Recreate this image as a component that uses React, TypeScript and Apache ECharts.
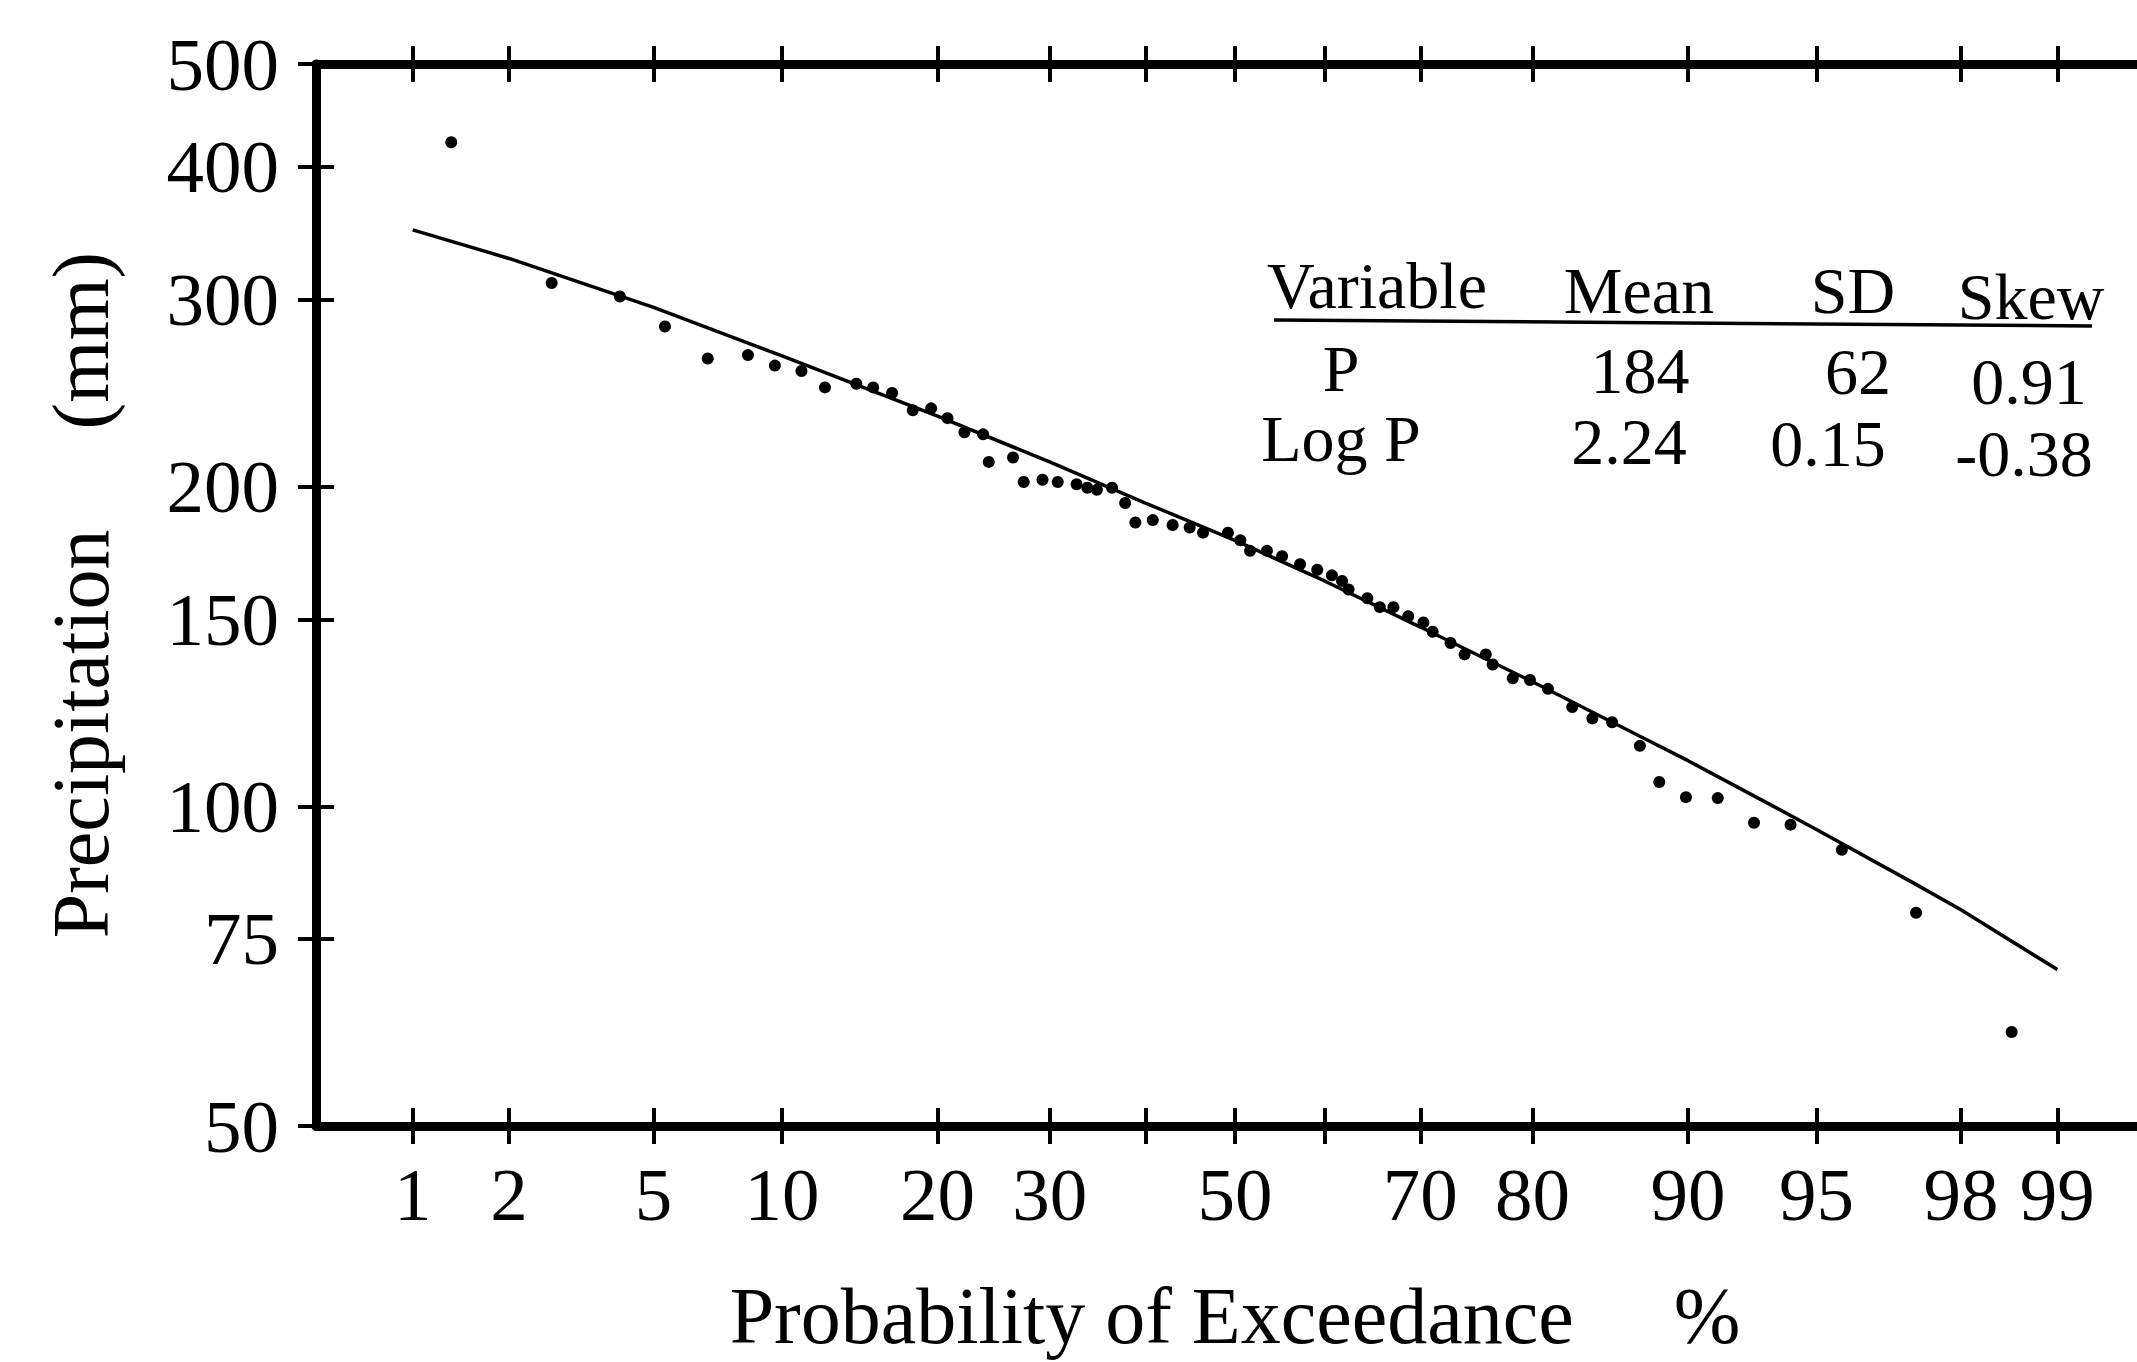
import React, { useEffect, useRef } from "react";
import * as echarts from "echarts";

const W = 2137;
const H = 1362;
const FONT = "'Liberation Serif', 'Times New Roman', serif";

// Axis ticks / labels (exceedance probability %, precipitation mm)
const xTickProbs = [1, 2, 5, 10, 20, 30, 40, 50, 60, 70, 80, 90, 95, 98, 99];
const xLabelProbs = [1, 2, 5, 10, 20, 30, 50, 70, 80, 90, 95, 98, 99];
const yTickValues = [50, 75, 100, 150, 200, 300, 400, 500];

// Observed annual precipitation, plotted at its exceedance probability (%)
const obsProb = [
  1.33, 2.66, 4.09, 5.34, 6.79, 8.41, 9.65, 11.0, 12.3, 14.2, 15.3, 16.6, 18.1, 19.5,
  20.8, 22.2, 23.8, 24.3, 26.5, 27.5, 29.3, 30.8, 32.7, 33.8, 34.8, 36.4, 37.8, 38.9,
  40.8, 43.0, 44.9, 46.4, 49.2, 50.6, 51.7, 53.6, 55.3, 57.3, 59.2, 60.8, 61.9, 62.6,
  64.6, 65.9, 67.3, 68.8, 70.3, 71.2, 72.9, 74.2, 76.1, 76.7, 78.4, 79.8, 81.2, 83.0,
  84.4, 85.7, 87.4, 88.5, 89.9, 91.4, 92.9, 94.2, 95.7, 97.3, 98.6,
];
const obsPrecip = [
  422, 311, 302, 283, 264, 266, 260, 257, 248, 250, 248, 245, 236, 237,
  232, 225, 224, 211, 213, 202, 203, 202, 201, 199.5, 198.6, 199.5, 193, 185,
  186, 184, 183, 181, 181, 178, 174, 174, 172, 169, 167, 165, 163, 160,
  157, 154, 154, 151, 149, 146, 142.5, 139, 139, 136, 132, 131.5, 129, 124,
  121, 120, 114, 105.4, 102, 101.8, 96.5, 96.1, 91, 79.4, 61.3,
];

// Fitted frequency curve
const fitProb = [1, 2, 5, 10, 20, 30, 40, 50, 60, 70, 80, 87.4, 90, 93.8, 95, 97.25, 98, 99];
const fitPrecip = [349, 328, 295, 265.5, 233, 211, 193, 178, 163, 147.5, 131, 116.4, 110.4, 99.4, 95.1, 84.7, 79.9, 70.2];

// Statistics table
const tableHeader = ["Variable", "Mean", "SD", "Skew"];
const tableRowP = ["P", "184", "62", "0.91"];
const tableRowLogP = ["Log P", "2.24", "0.15", "-0.38"];

// Inverse standard normal CDF (probability-paper transform of the x axis)
function normInv(p: number): number {
  const a = [-3.969683028665376e1, 2.209460984245205e2, -2.759285104469687e2, 1.38357751867269e2, -3.066479806614716e1, 2.506628277459239];
  const b = [-5.447609879822406e1, 1.615858368580409e2, -1.556989798598866e2, 6.680131188771972e1, -1.328068155288572e1];
  const c = [-7.784894002430293e-3, -3.223964580411365e-1, -2.400758277161838, -2.549732539343734, 4.374664141464968, 2.938163982698783];
  const d = [7.784695709041462e-3, 3.224671290700398e-1, 2.445134137142996, 3.754408661907416];
  const plow = 0.02425;
  const phigh = 1 - plow;
  if (p < plow) {
    const q = Math.sqrt(-2 * Math.log(p));
    return (((((c[0] * q + c[1]) * q + c[2]) * q + c[3]) * q + c[4]) * q + c[5]) / ((((d[0] * q + d[1]) * q + d[2]) * q + d[3]) * q + 1);
  }
  if (p <= phigh) {
    const q = p - 0.5;
    const r = q * q;
    return ((((((a[0] * r + a[1]) * r + a[2]) * r + a[3]) * r + a[4]) * r + a[5]) * q) / (((((b[0] * r + b[1]) * r + b[2]) * r + b[3]) * r + b[4]) * r + 1);
  }
  const q = Math.sqrt(-2 * Math.log(1 - p));
  return -(((((c[0] * q + c[1]) * q + c[2]) * q + c[3]) * q + c[4]) * q + c[5]) / ((((d[0] * q + d[1]) * q + d[2]) * q + d[3]) * q + 1);
}
const zOf = (pct: number) => normInv(pct / 100);
const lg = (v: number) => Math.log10(v);

const X_MIN = -2.6;
const X_MAX = 2.6;
const Y_MIN = lg(50);
const Y_MAX = lg(500);

const AXIS_W = 9;
const TICK_W = 4;
const TICK_L = 18;
const LABEL_SIZE = 75;
const TITLE_SIZE = 80;
const TABLE_SIZE = 66;

function xLabel(v: number): string {
  let best = xLabelProbs[0];
  let bd = Infinity;
  for (const p of xLabelProbs) {
    const dd = Math.abs(zOf(p) - v);
    if (dd < bd) {
      bd = dd;
      best = p;
    }
  }
  return String(best);
}

function baseX(position: "top" | "bottom", inside: boolean, withLine: boolean, withLabels: boolean, extra: any = {}) {
  return {
    type: "value",
    position,
    min: X_MIN,
    max: X_MAX,
    splitLine: { show: false },
    axisLine: { show: withLine, onZero: false, lineStyle: { color: "#000", width: AXIS_W } },
    axisTick: {
      show: true,
      inside,
      length: TICK_L,
      customValues: xTickProbs.map(zOf),
      lineStyle: { color: "#000", width: TICK_W },
    },
    axisLabel: withLabels
      ? {
          show: true,
          customValues: xLabelProbs.map(zOf),
          formatter: (v: number) => xLabel(v),
          color: "#000",
          fontFamily: FONT,
          fontSize: LABEL_SIZE,
          margin: 31,
          showMinLabel: true,
          showMaxLabel: true,
        }
      : { show: false },
    ...extra,
  };
}

function baseY(position: "left" | "right", inside: boolean, withLine: boolean, withLabels: boolean, withTicks: boolean, extra: any = {}) {
  return {
    type: "value",
    position,
    min: Y_MIN,
    max: Y_MAX,
    splitLine: { show: false },
    axisLine: { show: withLine, onZero: false, lineStyle: { color: "#000", width: AXIS_W } },
    axisTick: {
      show: withTicks,
      inside,
      length: TICK_L,
      customValues: yTickValues.map(lg),
      lineStyle: { color: "#000", width: TICK_W },
    },
    axisLabel: withLabels
      ? {
          show: true,
          customValues: yTickValues.map(lg),
          formatter: (v: number) => String(Math.round(Math.pow(10, v))),
          color: "#000",
          fontFamily: FONT,
          fontSize: LABEL_SIZE,
          margin: 37,
          showMinLabel: true,
          showMaxLabel: true,
        }
      : { show: false },
    ...extra,
  };
}

// Table layout (cell centres, px)
const tableCols = [
  [1377, 1639, 1853, 2031],
  [1341, 1640, 1858, 2029],
  [1341, 1629, 1828, 2024],
];
const tableRowsY = [
  [285, 290, 290, 296],
  [368, 370, 371, 381],
  [438, 441, 443, 453],
];

export default function App() {
  const ref = useRef<HTMLDivElement>(null);

  useEffect(() => {
    if (!ref.current) return;
    const chart = echarts.init(ref.current, undefined, { renderer: "svg" });

    const tableTexts: any[] = [];
    [tableHeader, tableRowP, tableRowLogP].forEach((row, ri) => {
      row.forEach((txt, ci) => {
        tableTexts.push({
          type: "text",
          x: tableCols[ri][ci],
          y: tableRowsY[ri][ci],
          silent: true,
          style: {
            text: txt,
            fill: "#000",
            font: `${TABLE_SIZE}px ${FONT}`,
            fontFamily: FONT,
            fontSize: TABLE_SIZE,
            textAlign: "center",
            textVerticalAlign: "middle",
            align: "center",
            verticalAlign: "middle",
          },
        });
      });
    });

    const option: any = {
      animation: false,
      backgroundColor: "#fff",
      grid: {
        left: 316,
        right: -17,
        top: 64,
        bottom: 236,
        containLabel: false,
        outerBoundsMode: "none",
      },
      xAxis: [
        baseX("bottom", false, true, true, {
          name: "Probability of Exceedance\u00a0\u00a0\u00a0\u00a0\u00a0%",
          nameLocation: "middle",
          nameGap: 150,
          nameMoveOverlap: false,
          nameTextStyle: { color: "#000", fontFamily: FONT, fontSize: TITLE_SIZE, lineHeight: 80 },
        }),
        baseX("bottom", true, false, false),
        baseX("top", false, true, false),
        baseX("top", true, false, false),
      ],
      yAxis: [
        baseY("left", false, true, true, true, {
          name: "Precipitation\u00a0\u00a0\u00a0\u00a0\u00a0(mm)",
          nameLocation: "middle",
          nameRotate: 90,
          nameGap: 195,
          nameMoveOverlap: false,
          nameTextStyle: { color: "#000", fontFamily: FONT, fontSize: TITLE_SIZE },
        }),
        baseY("left", true, false, false, true),
        baseY("right", true, true, false, false),
      ],
      series: [
        {
          type: "line",
          name: "fit",
          xAxisIndex: 0,
          yAxisIndex: 0,
          data: fitProb.map((p, i) => [zOf(p), lg(fitPrecip[i])]),
          showSymbol: false,
          symbol: "none",
          smooth: false,
          lineStyle: { color: "#000", width: 3.5, opacity: 1 },
          silent: true,
          z: 3,
        },
        {
          type: "scatter",
          name: "observed",
          xAxisIndex: 0,
          yAxisIndex: 0,
          data: obsProb.map((p, i) => [zOf(p), lg(obsPrecip[i])]),
          symbol: "circle",
          symbolSize: 12,
          itemStyle: { color: "#000", opacity: 1 },
          silent: true,
          z: 4,
        },
      ],
      graphic: [
        ...tableTexts,
        {
          type: "line",
          silent: true,
          shape: { x1: 1274, y1: 320, x2: 2092, y2: 326 },
          style: { stroke: "#000", lineWidth: 3.5 },
        },
      ],
    };

    chart.setOption(option);
    return () => chart.dispose();
  }, []);

  return (
    <div
      ref={ref}
      style={{ position: "fixed", left: 0, top: 0, width: W, height: H, background: "#fff" }}
    />
  );
}
